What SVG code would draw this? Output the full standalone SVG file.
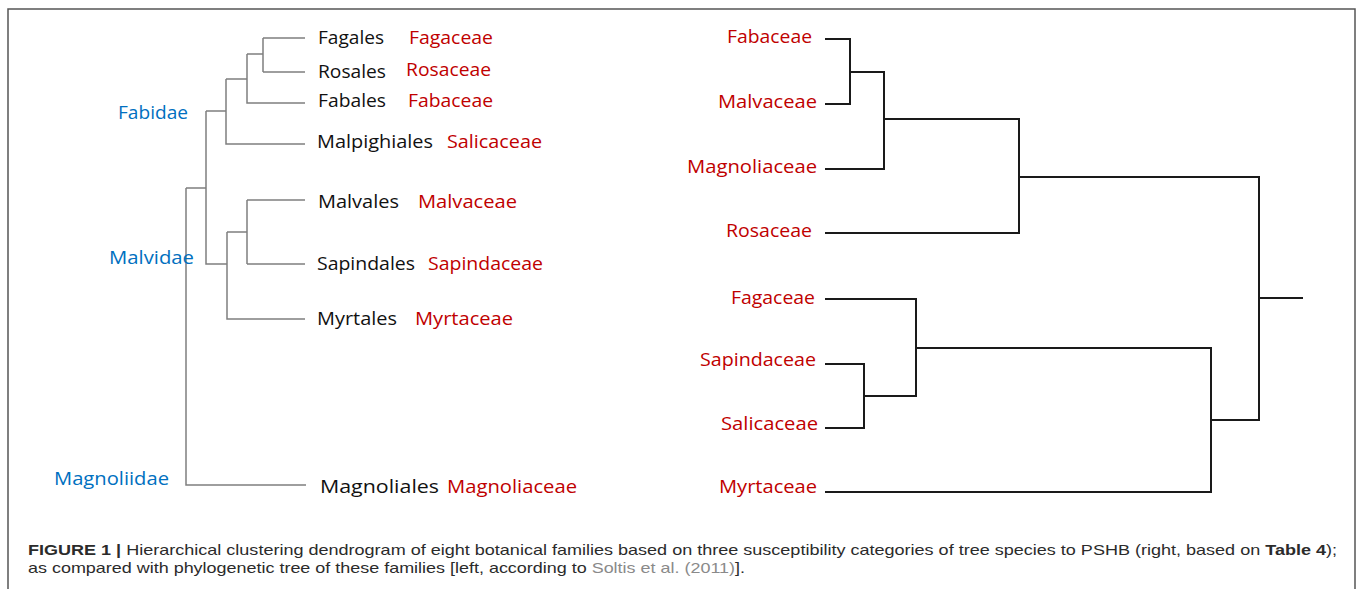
<svg xmlns="http://www.w3.org/2000/svg" width="1357" height="589" viewBox="0 0 1357 589">
<style>
.lbl{font-family:"Open Sans","Liberation Sans",sans-serif;font-size:19px}
.blk{fill:#111}
.red{fill:#c00000}
.blu{fill:#0070c0}
.gt{fill:none;stroke:#7f7f7f;stroke-width:1.5}
.bt{fill:none;stroke:#1a1a1a;stroke-width:2}
.cap{font-family:"Liberation Sans",Arial,sans-serif;font-size:14.5px;fill:#2b2b2b}
</style>
<rect width="1357" height="589" fill="#fff"/>
<path d="M8,589 V9 H1355 V589" fill="none" stroke="#555" stroke-width="1.5"/>
<g id="connectors">
<path class="gt" d="M263,38 H305 M263,72 H305 M263,38 V72 M247,54 H263 M247,54 V103 H305 M226,79 H247 M226,79 V144 H305 M206,111 H226 M206,111 V264 H227 M227,232 V319 H305 M227,232 H247 M247,200 V264 M247,200 H305 M247,264 H305 M186,188 H206 M186,188 V485 H306"/>
<path class="bt" d="M825,39 H850 V104 H825 M850,72 H884 V169 H825 M884,119 H1019 V233 H825 M1019,177 H1259 V420 H1211 M1259,298 H1303 M825,299 H916 V396 H864 M825,364 H864 V428 H825 M916,348 H1211 V492 H825"/>
</g>
<g id="left-tree">
<g id="n-fabidae"><text class="lbl blu" x="118" y="119" textLength="70" lengthAdjust="spacingAndGlyphs">Fabidae</text></g>
<g id="n-malvidae"><text class="lbl blu" x="109" y="264" textLength="85" lengthAdjust="spacingAndGlyphs">Malvidae</text></g>
<g id="n-magnoliidae"><text class="lbl blu" x="54" y="485" textLength="115" lengthAdjust="spacingAndGlyphs">Magnoliidae</text></g>
<g id="n-fagales"><text class="lbl blk" x="318" y="44" textLength="66" lengthAdjust="spacingAndGlyphs">Fagales</text><text class="lbl red" x="409" y="44" textLength="84" lengthAdjust="spacingAndGlyphs">Fagaceae</text></g>
<g id="n-rosales"><text class="lbl blk" x="318" y="78" textLength="68" lengthAdjust="spacingAndGlyphs">Rosales</text><text class="lbl red" x="406" y="76" textLength="85" lengthAdjust="spacingAndGlyphs">Rosaceae</text></g>
<g id="n-fabales"><text class="lbl blk" x="318" y="107" textLength="68" lengthAdjust="spacingAndGlyphs">Fabales</text><text class="lbl red" x="408" y="107" textLength="85" lengthAdjust="spacingAndGlyphs">Fabaceae</text></g>
<g id="n-malpighiales"><text class="lbl blk" x="317" y="148" textLength="116" lengthAdjust="spacingAndGlyphs">Malpighiales</text><text class="lbl red" x="447" y="148" textLength="95" lengthAdjust="spacingAndGlyphs">Salicaceae</text></g>
<g id="n-malvales"><text class="lbl blk" x="318" y="208" textLength="81" lengthAdjust="spacingAndGlyphs">Malvales</text><text class="lbl red" x="418" y="208" textLength="99" lengthAdjust="spacingAndGlyphs">Malvaceae</text></g>
<g id="n-sapindales"><text class="lbl blk" x="317" y="270" textLength="98" lengthAdjust="spacingAndGlyphs">Sapindales</text><text class="lbl red" x="428" y="270" textLength="115" lengthAdjust="spacingAndGlyphs">Sapindaceae</text></g>
<g id="n-myrtales"><text class="lbl blk" x="317" y="325" textLength="80" lengthAdjust="spacingAndGlyphs">Myrtales</text><text class="lbl red" x="415" y="325" textLength="98" lengthAdjust="spacingAndGlyphs">Myrtaceae</text></g>
<g id="n-magnoliales"><text class="lbl blk" x="320" y="493" textLength="119" lengthAdjust="spacingAndGlyphs">Magnoliales</text><text class="lbl red" x="447" y="493" textLength="130" lengthAdjust="spacingAndGlyphs">Magnoliaceae</text></g>
</g>
<g id="right-tree">
<g id="r-fabaceae"><text class="lbl red" x="727" y="43" textLength="85" lengthAdjust="spacingAndGlyphs">Fabaceae</text></g>
<g id="r-malvaceae"><text class="lbl red" x="718" y="108" textLength="99" lengthAdjust="spacingAndGlyphs">Malvaceae</text></g>
<g id="r-magnoliaceae"><text class="lbl red" x="687" y="173" textLength="130" lengthAdjust="spacingAndGlyphs">Magnoliaceae</text></g>
<g id="r-rosaceae"><text class="lbl red" x="726" y="237" textLength="86" lengthAdjust="spacingAndGlyphs">Rosaceae</text></g>
<g id="r-fagaceae"><text class="lbl red" x="731" y="304" textLength="84" lengthAdjust="spacingAndGlyphs">Fagaceae</text></g>
<g id="r-sapindaceae"><text class="lbl red" x="700" y="366" textLength="116" lengthAdjust="spacingAndGlyphs">Sapindaceae</text></g>
<g id="r-salicaceae"><text class="lbl red" x="721" y="430" textLength="97" lengthAdjust="spacingAndGlyphs">Salicaceae</text></g>
<g id="r-myrtaceae"><text class="lbl red" x="719" y="493" textLength="98" lengthAdjust="spacingAndGlyphs">Myrtaceae</text></g>
</g>
<g id="caption">
<text class="cap" x="28" y="555" textLength="1309" lengthAdjust="spacingAndGlyphs"><tspan font-weight="bold">FIGURE 1 |</tspan> Hierarchical clustering dendrogram of eight botanical families based on three susceptibility categories of tree species to PSHB (right, based on <tspan font-weight="bold">Table 4</tspan>);</text>
<text class="cap" x="28" y="573" textLength="717" lengthAdjust="spacingAndGlyphs">as compared with phylogenetic tree of these families [left, according to <tspan fill="#8a8a8a">Soltis et al. (2011)</tspan>].</text>
</g>
</svg>
